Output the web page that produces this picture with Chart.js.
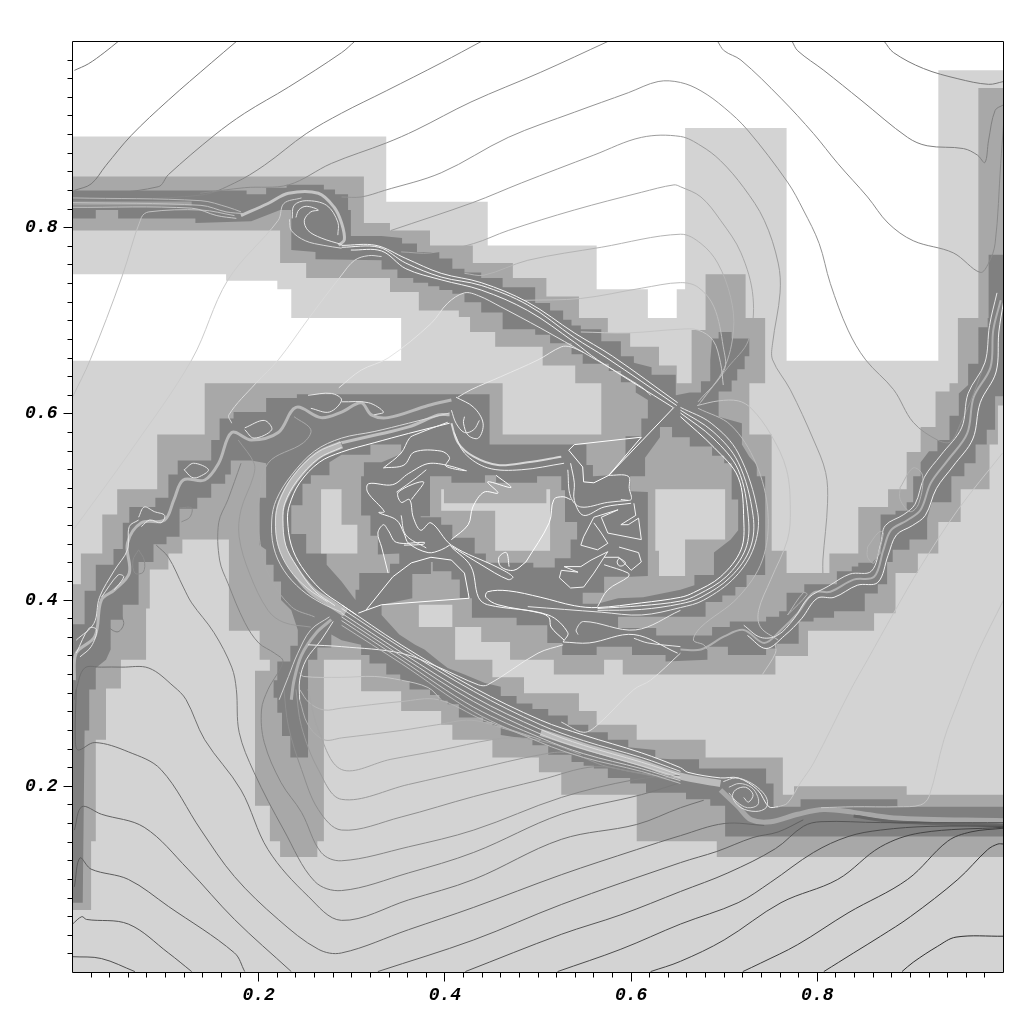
<!DOCTYPE html>
<html>
<head>
<meta charset="utf-8">
<style>body{margin:0;background:#fff}</style>
<script src="https://cdn.jsdelivr.net/npm/chart.js@4"></script>
</head>
<body>
<canvas id="chart" width="1024" height="1024"></canvas>
<script>
// tick values
const xTicks = [0.2, 0.4, 0.6, 0.8];
const yTicks = [0.2, 0.4, 0.6, 0.8];
const minorTicks = [0.02,0.04,0.06,0.08,0.1,0.12,0.14,0.16,0.18,0.22,0.24,0.26,0.28,0.3,0.32,0.34,0.36,0.38,0.42,0.44,0.46,0.48,0.5,0.52,0.54,0.56,0.58,0.62,0.64,0.66,0.68,0.7,0.72,0.74,0.76,0.78,0.82,0.84,0.86,0.88,0.9,0.92,0.94,0.96,0.98];

// refinement level outlines, flat x,y lists
const baseLevel = [0,0, 1,0, 1,1, 0,1];
const whiteTop = [0,1, 1,1, 1,.969, .930,.969, .930,.657, .767,.657, .767,.907, .658,.907, .658,.734, .649,.734, .649,.703, .618,.703, .618,.734, .563,.734, .563,.781, .446,.781, .446,.828, .337,.828, .337,.898, 0,.898];
const whiteLeft = [0,.750, .165,.750, .165,.743, .220,.743, .220,.734, .235,.734, .235,.703, .353,.703, .353,.657, 0,.657];
const midLevel = [0,.855, .313,.855, .313,.805, .341,.805, .341,.797, .384,.797, .384,.781, .430,.781, .430,.762, .473,.762, .473,.746, .509,.746, .509,.726, .544,.726, .544,.703, .575,.703, .575,.687, .599,.687, .599,.672, .630,.672, .630,.652, .649,.652, .649,.633, .665,.633, .665,.690, .680,.690, .680,.750, .723,.750, .723,.703, .744,.703, .744,.633, .727,.633, .727,.578, .751,.578, .751,.453, .767,.453, .767,.429, .813,.429, .813,.450, .844,.450, .844,.500, .876,.500, .876,.519, .896,.519, .896,.559, .911,.559, .911,.586, .927,.586, .927,.624, .942,.624, .942,.633, .951,.633, .951,.703, .973,.703, .973,.950, 1,.950, 1,.609, .994,.609, .994,.567, .985,.567, .985,.519, .954,.519, .954,.484, .930,.484, .930,.450, .908,.450, .908,.429, .884,.429, .884,.386, .861,.386, .861,.367, .790,.367, .790,.340, .755,.340, .755,.320, .591,.320, .591,.336, .571,.336, .571,.320, .517,.320, .517,.336, .470,.336, .470,.355, .439,.355, .439,.371, .411,.371, .411,.336, .451,.336, .451,.317, .485,.317, .485,.300, .544,.300, .544,.281, .563,.281, .563,.266, .606,.266, .606,.250, .680,.250, .680,.231, .763,.231, .763,.191, .775,.191, .775,.200, .896,.200, .896,.191, 1,.191, 1,.124, .692,.124, .692,.141, .606,.141, .606,.191, .525,.191, .525,.215, .501,.215, .501,.231, .451,.231, .451,.250, .408,.250, .408,.266, .396,.266, .396,.281, .353,.281, .353,.302, .310,.302, .310,.336, .270,.336, .270,.141, .263,.141, .263,.124, .223,.124, .223,.141, .212,.141, .212,.179, .196,.179, .196,.324, .212,.324, .212,.336, .201,.336, .201,.367, .168,.367, .168,.465, .118,.465, .118,.450, .103,.450, .103,.433, .083,.433, .083,.391, .079,.391, .079,.336, .052,.336, .052,.305, .036,.305, .036,.250, .025,.250, .025,.141, .020,.141, .020,.067, 0,.067, 0,.417, .009,.417, .009,.450, .032,.450, .032,.492, .048,.492, .048,.519, .091,.519, .091,.578, .142,.578, .142,.633, .462,.633, .462,.578, .568,.578, .568,.633, .540,.633, .540,.652, .505,.652, .505,.672, .454,.672, .454,.688, .427,.688, .427,.704, .415,.704, .415,.711, .372,.711, .372,.731, .341,.731, .341,.746, .251,.746, .251,.762, .223,.762, .223,.797, 0,.797];
const fineLevel = [0,.840, .187,.840, .187,.836, .208,.836, .208,.843, .230,.843, .230,.846, .270,.846, .270,.841, .282,.841, .282,.836, .296,.836, .296,.819, .299,.819, .299,.791, .332,.791, .354,.789, .354,.783, .370,.783, .370,.774, .394,.774, .394,.767, .408,.767, .408,.756, .421,.756, .421,.752, .439,.752, .439,.746, .462,.746, .462,.736, .497,.736, .497,.719, .513,.719, .513,.711, .527,.711, .527,.701, .536,.701, .536,.695, .546,.695, .546,.691, .568,.691, .568,.678, .589,.678, .589,.662, .603,.662, .603,.655, .622,.650, .622,.642, .648,.642, .648,.620, .663,.623, .675,.623, .675,.635, .685,.635, .685,.658, .687,.681, .694,.681, .694,.688, .708,.688, .708,.681, .727,.681, .727,.662, .722,.662, .722,.648, .714,.648, .714,.636, .708,.636, .708,.624, .694,.624, .694,.597, .719,.590, .719,.567, .727,.554, .735,.545, .735,.533, .744,.533, .744,.427, .724,.427, .724,.414, .712,.414, .712,.405, .698,.405, .698,.398, .680,.398, .680,.382, .586,.382, .586,.370, .627,.370, .627,.362, .687,.362, .687,.371, .706,.371, .706,.377, .745,.377, .745,.382, .759,.382, .759,.388, .767,.388, .767,.408, .786,.408, .786,.417, .821,.417, .821,.431, .837,.431, .837,.436, .844,.436, .844,.440, .859,.440, .868,.450, .868,.492, .884,.492, .884,.496, .896,.496, .896,.505, .903,.505, .903,.533, .911,.533, .911,.548, .920,.560, .929,.560, .929,.572, .942,.572, .942,.598, .952,.598, .952,.622, .962,.631, .962,.654, .973,.654, .973,.693, .983,.693, .983,.703, .984,.703, .984,.771, 1,.771, 1,.619, .991,.619, .991,.583, .982,.583, .982,.567, .970,.567, .970,.547, .958,.547, .958,.533, .944,.533, .944,.505, .923,.505, .918,.488, .918,.465, .899,.465, .899,.454, .881,.454, .881,.441, .875,.441, .875,.417, .865,.417, .865,.407, .851,.407, .851,.388, .818,.388, .818,.381, .796,.381, .796,.377, .780,.377, .780,.353, .756,.353, .756,.348, .745,.348, .745,.341, .704,.341, .704,.350, .682,.350, .682,.336, .637,.334, .637,.341, .601,.341, .601,.350, .563,.350, .563,.341, .526,.341, .526,.354, .510,.354, .510,.373, .477,.373, .477,.381, .429,.381, .429,.402, .416,.402, .416,.422, .407,.422, .407,.431, .387,.431, .387,.441, .385,.441, .385,.428, .365,.428, .365,.402, .332,.395, .332,.384, .342,.373, .351,.363, .368,.352, .378,.347, .394,.334, .403,.327, .421,.320, .443,.311, .460,.307, .460,.297, .477,.297, .477,.289, .494,.289, .494,.283, .511,.283, .511,.276, .532,.276, .532,.266, .554,.266, .554,.258, .575,.258, .575,.250, .597,.250, .597,.242, .626,.239, .626,.230, .643,.229, .673,.229, .673,.219, .745,.219, .745,.203, .753,.203, .753,.178, .782,.178, .782,.186, .886,.186, .886,.178, 1,.178, 1,.146, .701,.146, .701,.179, .685,.179, .685,.186, .659,.186, .659,.193, .616,.193, .616,.203, .599,.203, .599,.209, .575,.209, .575,.219, .560,.219, .560,.222, .549,.222, .549,.226, .536,.226, .536,.234, .511,.234, .511,.244, .494,.244, .494,.250, .460,.255, .460,.265, .451,.265, .451,.269, .441,.269, .441,.274, .415,.274, .415,.288, .403,.288, .403,.292, .394,.292, .394,.298, .384,.298, .384,.304, .362,.304, .362,.313, .352,.313, .352,.320, .337,.320, .337,.332, .319,.332, .319,.341, .310,.341, .310,.352, .289,.357, .278,.363, .278,.349, .263,.349, .263,.336, .253,.336, .253,.231, .234,.231, .234,.254, .225,.254, .225,.279, .220,.279, .220,.295, .216,.295, .216,.314, .220,.314, .220,.334, .234,.334, .234,.351, .242,.351, .242,.368, .235,.389, .224,.400, .224,.420, .216,.420, .216,.438, .208,.438, .208,.454, .201,.459, .201,.510, .208,.510, .208,.547, .192,.550, .170,.550, .170,.535, .164,.535, .164,.525, .149,.525, .149,.510, .134,.510, .134,.498, .115,.498, .115,.468, .101,.468, .101,.460, .087,.460, .087,.441, .071,.441, .071,.395, .054,.395, .054,.379, .041,.379, .041,.347, .036,.336, .025,.327, .025,.304, .018,.304, .018,.260, .013,.260, .011,.075, 0,.075, 0,.374, .013,.374, .013,.410, .025,.410, .025,.438, .044,.438, .044,.455, .054,.455, .054,.483, .061,.483, .061,.500, .089,.500, .089,.510, .103,.510, .103,.535, .113,.535, .113,.550, .149,.550, .149,.572, .158,.572, .158,.595, .173,.595, .173,.602, .208,.602, .208,.617, .241,.617, .241,.621, .448,.621, .448,.567, .552,.567, .552,.545, .559,.545, .559,.533, .578,.534, .594,.554, .594,.576, .611,.576, .611,.595, .618,.595, .618,.615, .605,.623, .605,.634, .589,.634, .589,.646, .576,.646, .576,.654, .548,.654, .548,.664, .536,.664, .536,.676, .513,.676, .513,.685, .497,.685, .497,.691, .462,.691, .462,.709, .439,.709, .439,.720, .421,.720, .421,.729, .408,.729, .408,.733, .394,.733, .394,.737, .382,.737, .382,.741, .366,.741, .366,.746, .349,.746, .349,.755, .332,.755, .332,.765, .261,.766, .261,.774, .235,.776, .235,.819, .223,.819, .192,.807, .132,.805, .132,.810, .049,.810, .049,.819, .025,.819, .025,.810, 0,.810];
const midRight = [.653,.575, .663,.575, .663,.565, .687,.565, .687,.555, .700,.555, .700,.547, .708,.547, .708,.508, .715,.508, .715,.475, .707,.465, .689,.451, .689,.427, .668,.427, .668,.416, .653,.411, .613,.403, .586,.402, .564,.396, .548,.396, .548,.408, .571,.408, .571,.425, .600,.425, .618,.426, .618,.516, .599,.517, .599,.533, .615,.533, .615,.553, .631,.575, .631,.586, .644,.586, .644,.575];
const midCenter = [.384,.533, .407,.533, .407,.526, .443,.526, .443,.534, .455,.534, .455,.526, .499,.526, .499,.533, .525,.533, .525,.518, .529,.518, .529,.484, .542,.484, .542,.465, .535,.465, .535,.445, .518,.445, .518,.435, .495,.435, .495,.440, .444,.440, .444,.450, .432,.450, .432,.467, .408,.467, .408,.481, .396,.481, .396,.489, .374,.489, .374,.490, .384,.490];
const midLeft = [.289,.556, .320,.556, .320,.567, .353,.567, .353,.557, .332,.548, .313,.548, .313,.533, .310,.533, .310,.491, .320,.491, .320,.469, .328,.469, .328,.449, .351,.450, .351,.439, .341,.439, .341,.429, .308,.429, .308,.411, .304,.411, .304,.400, .289,.420, .273,.438, .273,.450, .251,.450, .251,.471, .235,.471, .235,.502, .247,.502, .247,.525, .256,.525, .256,.534, .276,.534, .276,.548];
const islandRight = [.626,.519, .701,.519, .701,.465, .658,.465, .658,.426, .630,.426, .630,.453, .626,.453];
const islandLeft = [.267,.519, .289,.519, .289,.481, .306,.481, .306,.450, .267,.450];
const islandCenter = [.396,.519, .399,.519, .399,.504, .509,.504, .509,.519, .513,.519, .513,.453, .454,.453, .454,.496, .396,.496];
const islandLow = [.372,.395, .408,.395, .408,.371, .372,.371];

// contour lines, upper part
const c1 = [.002,.969, .017,.976, .034,.988, .049,1];
const c2 = [.002,.840, .020,.847, .036,.867, .063,.899, .103,.937, .149,.977, .176,1];
const c3 = [0,.833, .092,.844, .103,.857, .152,.899, .185,.923, .232,.951, .289,.988, .303,1];
const c4 = [0,.829, .138,.835, .174,.848, .206,.867, .251,.901, .289,.923, .337,.947, .396,.977, .439,1];
const c5 = [.137,.837, .185,.843, .232,.846, .278,.869, .337,.891, .369,.905, .428,.935, .503,.967, .575,1];
const c6 = [.289,.833, .310,.833, .335,.840, .396,.859, .468,.897, .539,.924, .597,.945, .629,.957, .653,.956, .675,.947, .700,.929, .725,.905, .768,.849, .785,.819, .802,.783, .814,.740, .833,.690, .852,.658, .882,.626, .903,.591, .929,.572, .943,.570, .954,.590, .968,.622, .981,.658];
const c7 = [.342,.797, .430,.827, .482,.848, .560,.878, .611,.897, .653,.898, .675,.888, .696,.872, .721,.843, .743,.808, .758,.762, .760,.730, .752,.676, .752,.658, .771,.626, .796,.572, .809,.537, .811,.504, .806,.443, .806,.429];
const c8 = [.353,.774, .385,.773, .431,.783, .468,.797, .539,.819, .611,.838, .646,.846, .653,.844, .675,.833, .696,.808, .718,.773, .731,.725, .726,.679, .704,.650, .672,.609];
const c9 = [.421,.751, .442,.749, .489,.765, .568,.779, .653,.793, .675,.783, .693,.762, .707,.725, .710,.690, .700,.649, .675,.613];
const c10 = [.485,.722, .546,.724, .611,.735, .653,.741, .672,.736, .689,.715, .699,.672, .700,.647, .672,.613];
const c11 = [.546,.688, .597,.687, .653,.691, .672,.690, .688,.679, .696,.655, .699,.631];
const c12 = [.693,1, .700,.990, .718,.980, .761,.939, .796,.901, .822,.869, .854,.833, .876,.805, .903,.786, .946,.773, .975,.752, .984,.762, .991,.783, .997,.869, 1,.910];
const c13 = [.773,1, .779,.990, .807,.969, .847,.937, .897,.897, .918,.888, .957,.885, .972,.878, .980,.870, .984,.894, .991,.926, 1,.932];
const c14 = [.872,1, .882,.988, .914,.971, .951,.960, .984,.954, 1,.957];
const c15 = [0,.618, .019,.658, .053,.747, .074,.811, .082,.817, .138,.819, .174,.813];
const c16 = [.002,.477, .063,.561, .128,.658, .167,.744, .221,.808, .227,.826, .246,.832];
const c17 = [.171,.590, .168,.599, .197,.633, .221,.658, .254,.703, .289,.749, .303,.765, .318,.770, .332,.769];
const c19 = [.286,.628, .310,.647, .339,.660, .385,.697, .403,.719, .421,.730, .436,.727, .460,.715, .503,.692, .554,.663, .611,.629, .621,.620];
const c20 = [.414,.618, .428,.626, .460,.640, .500,.658, .525,.672, .535,.672, .549,.666];
const diagA = [.289,.781, .326,.781, .358,.767, .396,.751, .439,.741, .489,.720, .539,.687, .580,.662, .650,.612];
const diagB = [.289,.779, .329,.779, .358,.762, .396,.747, .439,.738, .489,.717, .539,.682, .574,.660, .649,.609];
const diagC = [.299,.776, .332,.775, .358,.756, .396,.744, .439,.733, .489,.711, .539,.677, .564,.658, .645,.607];
const bandTop = [0,.826, .128,.826];
const t1 = [0,.832, .138,.829, .167,.822, .181,.817];
const t2 = [0,.827, .138,.824, .165,.817, .185,.815];
const t3 = [0,.822, .128,.821, .155,.813, .176,.810];
const spiralTopBand = [.181,.813, .210,.826, .232,.837, .264,.837, .281,.822, .289,.805, .292,.787, .286,.781];
const spiralTopA = [.240,.811, .243,.819, .251,.823, .264,.819, .256,.817, .249,.808, .253,.797, .267,.789, .289,.782];
const spiralTopB = [.236,.810, .238,.824, .251,.829, .273,.824, .285,.806, .285,.792];
const spiralTopC = [.233,.809, .235,.797, .250,.786, .270,.781, .289,.778];

// contour lines, lower part
const f1 = [.244,.304, .254,.290, .270,.282, .289,.284, .353,.291, .393,.293, .442,.271, .503,.250];
const f2 = [.244,.293, .253,.266, .270,.250, .289,.252, .353,.260, .391,.266, .428,.271, .460,.263, .492,.253];
const f3 = [.253,.304, .264,.261, .289,.218, .342,.229, .396,.239, .450,.250, .479,.252, .511,.247, .546,.234];
const f4 = [.240,.304, .246,.264, .264,.218, .289,.186, .361,.202, .431,.218, .503,.234, .532,.236, .575,.221, .653,.207];
const f5 = [.227,.304, .232,.264, .246,.218, .264,.175, .289,.153, .353,.167, .431,.189, .503,.207, .560,.221, .603,.215, .653,.204];
const f6 = [.181,.547, .167,.508, .157,.483, .158,.443, .167,.418, .185,.376, .200,.354, .217,.343, .226,.334, .210,.304, .203,.282, .206,.247, .224,.204, .246,.172, .267,.129, .289,.120, .361,.135, .431,.153, .525,.188, .603,.207, .653,.212];
const f7 = [.090,.459, .103,.446, .119,.414, .128,.397, .152,.365, .171,.328, .176,.304, .179,.258, .195,.215, .227,.153, .260,.098, .289,.088, .361,.107, .431,.129, .525,.170, .611,.191, .653,.204];
const f8 = [.002,.293, .004,.304, .013,.327, .031,.328, .053,.328, .082,.327, .109,.307, .122,.293, .142,.250, .181,.196, .210,.132, .253,.082, .289,.056, .361,.078, .431,.100, .525,.143, .606,.159, .653,.177, .678,.185];
const f9 = [.004,.304, .003,.250, .006,.239, .024,.247, .060,.237, .095,.218, .138,.153, .174,.103, .221,.057, .264,.025, .289,.021, .361,.046, .431,.070, .525,.105, .606,.132, .653,.147, .700,.160, .743,.158];
const g2 = [.002,.153, .010,.178, .031,.170, .077,.156, .124,.111, .174,.057, .235,.001];
const g3 = [.002,.092, .008,.123, .020,.111, .060,.100, .103,.071, .174,.021, .185,.001];
const g4 = [0,.052, .010,.060, .015,.057, .060,.052, .103,.021, .128,.001];
const g5 = [0,.017, .031,.015, .067,.001];
const b1 = [.328,.001, .431,.035, .525,.073, .653,.118, .692,.130, .731,.145, .758,.151, .785,.164];
const b2 = [.422,.001, .525,.041, .589,.062, .653,.087, .704,.107, .755,.133, .785,.157, .804,.162, .868,.161, 1,.161];
const b3 = [.521,.001, .589,.025, .653,.052, .715,.075, .750,.097, .796,.129, .833,.146, .868,.153, .922,.157, 1,.157];
const b4 = [.621,.001, .653,.012, .700,.035, .761,.075, .822,.100, .868,.135, .911,.150, 1,.156];
const b5 = [.720,.001, .739,.010, .779,.030, .833,.064, .897,.100, .940,.141, .965,.151, 1,.155];
const b6 = [.807,.001, .839,.021, .868,.039, .900,.060, .951,.100, .983,.132, .994,.138, 1,.138];
const b7 = [.891,.001, .903,.011, .929,.028, .949,.038, 1,.039];
const m2 = [.178,.572, .195,.547, .194,.532, .181,.497, .179,.468, .190,.429, .210,.389, .227,.376, .256,.371];
const m3 = [.238,.597, .256,.583, .248,.569, .210,.547, .200,.504, .200,.472, .210,.429, .235,.393, .260,.382];
const loop1 = [.071,.454, .077,.443, .076,.430, .067,.429, .065,.443, .071,.454];
const loop2 = [.039,.389, .045,.392, .055,.376, .049,.366, .039,.371, .036,.382, .039,.389];
const loop3 = [.117,.484, .126,.489, .128,.499, .115,.499];
const branch1 = [.276,.382, .256,.368, .242,.343, .232,.318, .222,.293];
const branch2 = [.278,.379, .262,.365, .246,.341, .238,.314, .235,.293];
const branch3 = [.280,.377, .267,.357, .251,.336, .244,.314, .244,.293];
const j1 = [.244,.322, .248,.318, .289,.317, .324,.318, .353,.314, .382,.306, .396,.293];
const j2 = [.253,.352, .289,.350, .353,.343, .393,.328, .436,.309, .446,.309, .500,.343, .527,.352];
const j3 = [.653,.343, .621,.314, .603,.304, .564,.266, .549,.258, .525,.269];
const shockBand = [.503,.258, .549,.243, .611,.225, .653,.211, .696,.203];
const r1 = [.289,.395, .353,.352, .431,.306, .503,.271, .549,.255, .611,.236, .653,.220, .661,.215, .696,.209, .715,.209, .736,.196, .748,.178, .758,.178];
const faintMid = [.758,.178, .768,.182, .782,.204, .796,.225, .836,.304, .854,.336, .882,.386, .911,.436, .951,.497, .999,.558];
const r2 = [.289,.391, .353,.349, .431,.302, .503,.266, .549,.249, .611,.231, .653,.216];
const r3 = [.289,.386, .353,.344, .431,.296, .503,.261, .549,.244, .611,.226, .653,.212];
const r4 = [.289,.382, .353,.340, .431,.291, .503,.256, .549,.240, .611,.222, .653,.209];
const r5 = [.289,.378, .353,.336, .431,.285, .503,.252, .549,.235, .611,.219, .653,.206];
const r6 = [.289,.373, .353,.332, .431,.280, .503,.247, .549,.231, .611,.216, .653,.203];
const faintRight = [.804,.177, .839,.178, .886,.178, .911,.180, .920,.189, .936,.250, .952,.293, .972,.343, 1,.400];
const spiralLowA = [.699,.205, .712,.209, .726,.205, .739,.196, .746,.186, .745,.177, .734,.173, .718,.177, .709,.188, .712,.196, .723,.199, .731,.191, .726,.183, .721,.188];
const spiralLowB = [.705,.199, .716,.203, .729,.199, .736,.189, .736,.180, .725,.177, .714,.183, .705,.193];
const lowBand = [.696,.196, .715,.178, .729,.164, .750,.162, .779,.170, .807,.175, .839,.172, .882,.166, 1,.163];
const lowDark = [.839,.168, .882,.162, 1,.158];

// ring around the centre
const ringOut = [.653,.607, .686,.590, .715,.558, .736,.494, .732,.457, .712,.425, .678,.400, .653,.392, .611,.384, .568,.387, .489,.393];
const ringIn = [.653,.597, .689,.564, .715,.532, .721,.486, .718,.454, .696,.425, .667,.408, .653,.403, .611,.397, .564,.392, .539,.394, .503,.403, .468,.410, .446,.409, .444,.403, .457,.395, .503,.386, .512,.381, .514,.371, .528,.357];
const ringM1 = [.653,.604, .688,.581, .715,.548, .731,.491, .728,.456, .707,.425, .675,.403, .653,.396, .611,.390, .564,.389];
const ringM2 = [.653,.601, .688,.574, .715,.540, .726,.488, .723,.455, .702,.425, .672,.406, .653,.399, .611,.394, .564,.391];
const ringLeftOut = [.405,.601, .361,.590, .324,.581, .289,.574, .260,.560, .235,.534, .219,.508, .214,.486, .216,.457, .227,.432, .246,.411, .267,.397, .289,.387];
const ringLeftIn = [.405,.590, .361,.579, .324,.569, .289,.559, .265,.548, .244,.526, .233,.502, .231,.486, .235,.459, .246,.436, .267,.411, .289,.395, .305,.384];
const ringLeftBand = [.289,.567, .263,.555, .239,.530, .225,.505, .222,.486, .225,.458, .237,.435, .256,.411, .278,.396, .293,.386];
const ringLeftM1 = [.289,.570, .262,.558, .236,.532, .222,.506, .218,.486, .221,.458, .233,.433, .252,.413, .274,.398];
const ringLeftM2 = [.289,.564, .264,.552, .241,.528, .228,.504, .226,.486, .229,.459, .241,.436, .260,.410, .282,.394];
const ringUp = [.289,.569, .324,.577, .361,.586, .393,.599, .405,.599];
const wedge = [.307,.386, .315,.389, .344,.425, .364,.440, .385,.446, .407,.443, .421,.429, .425,.408, .426,.402, .332,.395, .315,.389];

// centre filaments
const w1 = [.334,.542, .353,.558, .362,.574, .369,.578, .403,.591];
const w2 = [.334,.542, .356,.545, .367,.559, .396,.560, .405,.553, .401,.544, .423,.539, .385,.547, .361,.536, .344,.524, .318,.525, .317,.516, .335,.495, .329,.494, .348,.486, .356,.472, .361,.461, .382,.451, .396,.454, .405,.459];
const w3 = [.405,.459, .439,.438, .468,.422, .473,.425, .457,.435, .407,.459, .385,.483, .374,.475, .366,.489, .362,.508, .353,.505, .350,.516, .377,.527, .364,.508];
const w3b = [.348,.516, .369,.531, .380,.540];
const w3c = [.353,.491, .358,.470, .380,.456];
const w4 = [.339,.429, .332,.457, .328,.472, .334,.481, .339,.475, .348,.462, .378,.462, .377,.460, .356,.459];
const w5 = [.407,.457, .428,.436, .436,.403, .446,.395, .511,.384, .532,.365, .527,.355];
const w6a = [.407,.590, .414,.569, .431,.554, .457,.545, .489,.548, .525,.554];
const w6b = [.410,.580, .421,.558, .446,.542, .482,.540, .528,.547];
const w7a = [.535,.547, .539,.526, .539,.507, .549,.491, .571,.500, .600,.504];
const w7b = [.532,.540, .535,.511, .546,.500, .575,.505, .597,.507];
const w8 = [.533,.561, .539,.567, .611,.575, .576,.534, .560,.526, .549,.527, .548,.543, .533,.561];
const w9 = [.576,.534, .646,.607];
const w10 = [.575,.534, .597,.533, .598,.520, .600,.508, .589,.508];
const w11 = [.603,.504, .605,.491, .589,.481, .597,.481, .608,.488, .611,.465, .575,.472, .568,.489, .586,.497, .560,.489, .549,.468, .546,.459, .564,.454, .575,.461, .568,.472, .560,.483];
const w12 = [.587,.457, .608,.451, .611,.441, .600,.432, .587,.446, .571,.446, .575,.452, .557,.443, .546,.436, .528,.436, .543,.430, .525,.432, .523,.424, .535,.413, .549,.414, .560,.429, .571,.446];
const w13 = [.571,.438, .597,.429, .597,.425, .575,.411, .564,.393];
const w14 = [.587,.445, .591,.443, .594,.440, .591,.437, .587,.437, .585,.441, .587,.445];
const w15 = [.407,.465, .425,.481, .430,.500, .442,.516, .457,.515, .446,.527, .471,.521, .455,.534];
const w16 = [.487,.441, .512,.483, .517,.508, .527,.511, .535,.508];
const w17 = [.487,.441, .474,.432, .460,.436, .458,.446, .466,.451, .469,.436];
const w18 = [.527,.355, .555,.354, .603,.363, .650,.343];
const w19 = [.543,.363, .541,.368, .549,.377, .605,.368, .653,.389];
const w20 = [.603,.359, .618,.354, .653,.350];
const vortex1 = [.412,.618, .431,.607, .441,.590, .436,.574, .425,.577, .420,.590, .421,.597];
const vortex2 = [.407,.604, .412,.590, .421,.580, .431,.583, .437,.593];

// the two unstable arms
const armRight = [.653,.347, .675,.347, .700,.361, .721,.368, .743,.354, .761,.368, .779,.386, .796,.408, .814,.409, .839,.422, .861,.425, .871,.454, .879,.475, .897,.486, .911,.497, .922,.526, .940,.550, .961,.579, .968,.618, .986,.650, .989,.690, .997,.722];
const armRightA = [.721,.373, .739,.360, .757,.362, .775,.380, .790,.402, .812,.415, .835,.428, .858,.431, .868,.460, .873,.480, .893,.492, .905,.503, .915,.532, .933,.556, .955,.585, .962,.622, .980,.655, .985,.695, .993,.730];
const armRightB = [.725,.362, .745,.348, .765,.362, .783,.380, .800,.402, .818,.403, .843,.416, .865,.419, .876,.448, .885,.470, .902,.480, .916,.491, .928,.520, .946,.544, .967,.573, .975,.612, .992,.645, .995,.688, 1,.720];
const loopR1 = [.889,.521, .903,.542, .913,.534, .909,.504, .900,.495, .889,.508, .889,.521];
const loopR2 = [.854,.457, .866,.473, .871,.472, .861,.440, .854,.446, .854,.457];
const loopR3 = [.768,.384, .785,.408, .789,.406, .768,.384];
const longR1 = [.758,.357, .739,.371, .737,.389, .750,.422, .768,.465, .771,.497, .767,.540, .750,.578, .729,.606, .715,.614, .694,.614, .671,.609];
const longR2 = [.672,.606, .707,.588, .734,.547, .747,.494, .741,.443, .715,.403, .675,.371, .667,.357, .678,.352, .682,.347];
const longR3 = [.741,.320, .755,.343, .755,.354];
const armLeft = [.002,.314, .004,.343, .024,.361, .031,.400, .045,.411, .061,.429, .059,.461, .074,.483, .099,.486, .109,.508, .119,.529, .142,.529, .157,.547, .171,.580, .192,.572, .221,.580, .240,.607, .267,.596, .289,.602, .310,.612, .321,.599, .339,.596, .382,.609, .407,.615];
const armLeftA = [.004,.357, .023,.375, .029,.403, .045,.432, .059,.454, .061,.479, .071,.486];
const loopL1 = [.071,.489, .077,.500, .088,.495, .099,.491, .095,.483, .083,.486, .074,.479];
const loopL2 = [.120,.540, .130,.547, .146,.540, .135,.532, .128,.532, .120,.540];
const loopL3 = [.185,.585, .206,.593, .214,.583, .195,.574, .185,.583];
const loopL4 = [.253,.620, .278,.622, .289,.615, .276,.602, .256,.606];
const loopL5 = [.289,.613, .318,.612, .334,.602, .324,.599];
const loopL6 = [.031,.403, .049,.427, .055,.425, .045,.411];
const loopL7 = [.004,.343, .018,.370, .026,.368, .020,.350, .008,.339];

// [outline, colour]
const levels = [
  [baseLevel, "#d3d3d3"], [whiteTop, "#ffffff"], [whiteLeft, "#ffffff"],
  [midLevel, "#a8a8a8"], [fineLevel, "#808080"],
  [midRight, "#a8a8a8"], [midCenter, "#a8a8a8"], [midLeft, "#a8a8a8"],
  [islandRight, "#d3d3d3"], [islandLeft, "#d3d3d3"], [islandCenter, "#d3d3d3"], [islandLow, "#d3d3d3"],
];

// straight edges keep their corners
const angular = [wedge, w8, w9, w11, w12];

// [line, colour, width]
const lines = [
  [bandTop, "#a0a0a0", 4], [shockBand, "#bcbcbc", 7], [ringLeftBand, "#b8b8b8", 8], [armRight, "#b0b0b0", 2], [armLeft, "#b8b8b8", 3],
  [spiralTopBand, "#c4c4c4", 3], [lowBand, "#a8a8a8", 5], [lowDark, "#666666", 3], [ringUp, "#c0c0c0", 3], [branch2, "#b0b0b0", 3],
  [c1, "#777777", 1], [c2, "#7a7a7a", 1], [c3, "#808080", 1], [c4, "#868686", 1], [c5, "#8c8c8c", 1], [c6, "#949494", 1], [c7, "#9c9c9c", 1],
  [c8, "#a8a8a8", 1], [c9, "#b4b4b4", 1], [c10, "#bebebe", 1], [c11, "#c6c6c6", 1], [c12, "#8a8a8a", 1], [c13, "#808080", 1], [c14, "#7a7a7a", 1],
  [c15, "#c0c0c0", 1], [c16, "#cccccc", 1], [c17, "#dadada", 1], [c19, "#e4e4e4", 1], [c20, "#e8e8e8", 1],
  [diagA, "#f4f4f4", 1], [diagB, "#f4f4f4", 1], [diagC, "#f4f4f4", 1], [t1, "#b8b8b8", 1], [t2, "#c0c0c0", 1], [t3, "#c8c8c8", 1],
  [spiralTopA, "#e8e8e8", 1], [spiralTopB, "#e0e0e0", 1], [spiralTopC, "#d8d8d8", 1],
  [f1, "#b8b8b8", 1], [f2, "#b0b0b0", 1], [f3, "#a6a6a6", 1], [f4, "#9a9a9a", 1], [f5, "#8e8e8e", 1], [f6, "#858585", 1], [f7, "#7a7a7a", 1], [f8, "#707070", 1], [f9, "#686868", 1],
  [g2, "#626262", 1], [g3, "#5c5c5c", 1], [g4, "#565656", 1], [g5, "#505050", 1],
  [b1, "#606060", 1], [b2, "#565656", 1], [b3, "#4c4c4c", 1], [b4, "#444444", 1], [b5, "#3c3c3c", 1], [b6, "#363636", 1], [b7, "#303030", 1],
  [m2, "#9a9a9a", 1], [m3, "#aaaaaa", 1], [loop1, "#8c8c8c", 1], [loop2, "#808080", 1], [loop3, "#8c8c8c", 1],
  [branch1, "#d0d0d0", 1], [branch3, "#e8e8e8", 1], [j1, "#c4c4c4", 1], [j2, "#ececec", 1], [j3, "#e0e0e0", 1],
  [r1, "#f2f2f2", 1], [faintMid, "#c6c6c6", 1], [r2, "#e4e4e4", 1], [r3, "#dcdcdc", 1], [r4, "#d4d4d4", 1], [r5, "#cccccc", 1], [r6, "#bcbcbc", 1], [faintRight, "#c4c4c4", 1],
  [spiralLowA, "#e0e0e0", 1], [spiralLowB, "#d4d4d4", 1],
  [ringOut, "#e8e8e8", 1], [ringIn, "#ffffff", 1], [ringM1, "#eeeeee", 1], [ringM2, "#f4f4f4", 1],
  [ringLeftOut, "#d8d8d8", 1], [ringLeftIn, "#ffffff", 1], [ringLeftM1, "#e0e0e0", 1], [ringLeftM2, "#e8e8e8", 1], [wedge, "#ffffff", 1],
  [w1, "#f4f4f4", 1], [w2, "#f8f8f8", 1], [w3, "#f8f8f8", 1], [w3b, "#f0f0f0", 1], [w3c, "#f0f0f0", 1], [w4, "#f8f8f8", 1], [w5, "#f8f8f8", 1],
  [w6a, "#d8d8d8", 2], [w6b, "#eeeeee", 1], [w7a, "#f4f4f4", 1], [w7b, "#eeeeee", 1], [w8, "#ffffff", 1], [w9, "#ffffff", 1], [w10, "#f4f4f4", 1],
  [w11, "#f4f4f4", 1], [w12, "#f4f4f4", 1], [w13, "#f4f4f4", 1], [w14, "#f4f4f4", 1], [w15, "#ffffff", 1], [w16, "#ffffff", 1], [w17, "#ffffff", 1],
  [w18, "#f0f0f0", 1], [w19, "#e8e8e8", 1], [w20, "#e8e8e8", 1], [vortex1, "#f0f0f0", 1], [vortex2, "#e8e8e8", 1],
  [armRightA, "#e6e6e6", 1], [armRightB, "#f0f0f0", 1], [loopR1, "#b4b4b4", 1], [loopR2, "#b4b4b4", 1], [loopR3, "#b4b4b4", 1],
  [longR1, "#c4c4c4", 1], [longR2, "#bcbcbc", 1], [longR3, "#c8c8c8", 1],
  [armLeftA, "#e4e4e4", 1], [loopL1, "#e8e8e8", 1], [loopL2, "#e8e8e8", 1], [loopL3, "#e8e8e8", 1], [loopL4, "#e8e8e8", 1], [loopL5, "#e8e8e8", 1], [loopL6, "#e4e4e4", 1], [loopL7, "#e4e4e4", 1],
];

function toPoints(flat) {
  const pts = [];
  for (let i = 0; i < flat.length; i += 2) {
    pts.push({ x: flat[i], y: flat[i + 1] });
  }
  return pts;
}

const datasets = [];
levels.forEach(function (l) {
  datasets.push({ data: toPoints(l[0]), showLine: true, fill: "shape", backgroundColor: l[1], borderWidth: 0, pointRadius: 0 });
});
lines.forEach(function (l) {
  datasets.push({
    data: toPoints(l[0]),
    showLine: true,
    fill: false,
    borderColor: l[1],
    borderWidth: l[2],
    pointRadius: 0,
    tension: angular.includes(l[0]) ? 0 : 0.35,
  });
});
// chart.js paints the first dataset last
datasets.reverse();

// short ticks and the box around the plot
const axesExtras = {
  id: "axesExtras",
  afterDraw(chart) {
    const ctx = chart.ctx, a = chart.chartArea;
    ctx.save();
    ctx.strokeStyle = "#000";
    ctx.lineWidth = 1;
    ctx.beginPath();
    minorTicks.forEach(function (v) {
      const px = Math.floor(chart.scales.x.getPixelForValue(v)) + 0.5;
      const py = Math.floor(chart.scales.y.getPixelForValue(v)) + 0.5;
      ctx.moveTo(px, a.bottom);
      ctx.lineTo(px, a.bottom + 5);
      ctx.moveTo(a.left, py);
      ctx.lineTo(a.left - 5, py);
    });
    ctx.rect(a.left, a.top, a.right - a.left, a.bottom - a.top);
    ctx.stroke();
    ctx.restore();
  },
};

const tickFont = { family: "'Liberation Mono'", size: 18, weight: "bold", style: "italic" };

new Chart(document.getElementById("chart").getContext("2d"), {
  type: "scatter",
  data: { datasets },
  plugins: [axesExtras],
  options: {
    responsive: false,
    animation: false,
    layout: { padding: { top: 41.5, right: 20.5, left: 0, bottom: 0 } },
    plugins: { legend: { display: false }, tooltip: { enabled: false } },
    scales: {
      x: {
        type: "linear",
        min: 0,
        max: 1,
        afterBuildTicks(scale) { scale.ticks = xTicks.map((v) => ({ value: v })); },
        afterFit(scale) { scale.height = 51.5; },
        grid: { drawOnChartArea: false, drawTicks: true, tickLength: 9, color: "#000" },
        border: { display: false },
        ticks: { color: "#000", font: tickFont, padding: 3, maxRotation: 0, autoSkip: false, callback: (v) => v.toFixed(1) },
      },
      y: {
        type: "linear",
        min: 0,
        max: 1,
        afterBuildTicks(scale) { scale.ticks = yTicks.map((v) => ({ value: v })); },
        afterFit(scale) { scale.width = 72.5; },
        grid: { drawOnChartArea: false, drawTicks: true, tickLength: 9, color: "#000" },
        border: { display: false },
        ticks: { color: "#000", font: tickFont, padding: 6, autoSkip: false, callback: (v) => v.toFixed(1) },
      },
    },
  },
});
</script>
</body>
</html>
